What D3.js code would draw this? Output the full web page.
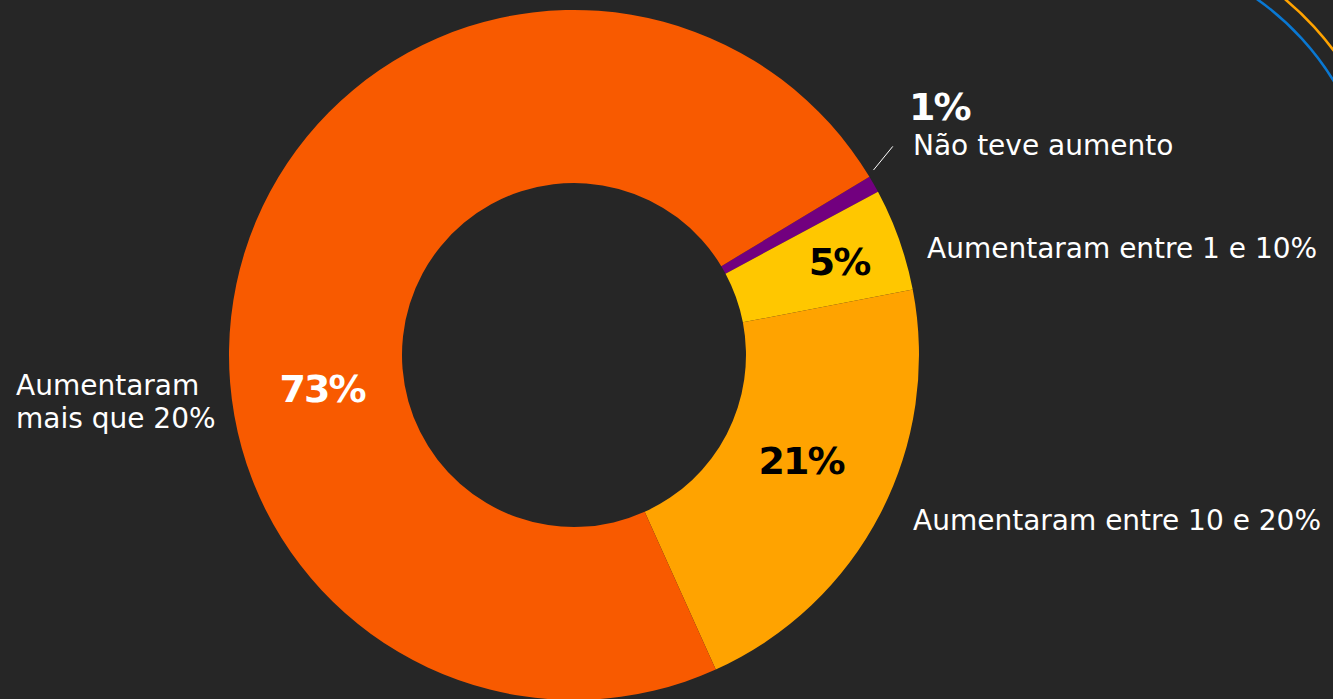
<!DOCTYPE html>
<html lang="pt">
    <head>
        <meta charset="utf-8">
        <title>Aumentos</title>
        <script type="text/javascript" src="https://cdn.jsdelivr.net/npm/d3@7"></script>
        <style>
          body { margin: 0; background: #262626; overflow: hidden; }
        </style>
    </head>
    <body>
        <script type="text/javascript">
          // data (clockwise from the purple slice)
          var categories = ["Não teve aumento", "Aumentaram entre 1 e 10%", "Aumentaram entre 10 e 20%", "Aumentaram mais que 20%"];
          var values = [0.8, 4.8, 21.3, 73.1];
          var colors = ["#72007f", "#ffc700", "#ffa300", "#f85a00"];

          var w = 1333;
          var h = 699;
          var cx = 574, cy = 355;
          var outerR = 345, innerR = 172;
          var font = "'DejaVu Sans', sans-serif";
          var deg = Math.PI / 180;

          var svg = d3.select("body").append("svg")
                      .attr("width", w)
                      .attr("height", h);

          svg.append("rect")
             .attr("width", w)
             .attr("height", h)
             .attr("fill", "#262626");

          // decorative arc segments in the corner
          var rings = svg.append("g").attr("transform", "translate(1099,224)");
          rings.append("path")
               .attr("d", d3.arc()({innerRadius: 290.5, outerRadius: 293, startAngle: 25 * deg, endAngle: 70 * deg}))
               .attr("fill", "#ffa300");
          rings.append("path")
               .attr("d", d3.arc()({innerRadius: 273.5, outerRadius: 276, startAngle: 25 * deg, endAngle: 70 * deg}))
               .attr("fill", "#0a78d2");

          var pie = d3.pie()
                      .sort(null)
                      .startAngle(58.9 * deg)
                      .endAngle((58.9 + 360) * deg);

          var arc = d3.arc()
                      .innerRadius(innerR)
                      .outerRadius(outerR);

          var arcs = pie(values);

          var g = svg.append("g")
                     .attr("transform", "translate(" + cx + "," + cy + ")");

          g.selectAll("path")
           .data(arcs)
           .enter()
           .append("path")
           .attr("d", arc)
           .attr("fill", function(d, i) { return colors[i]; });

          // percentage labels: [x, y, colour, anchor]
          var pctPos = [
            [909, 120, "#ffffff", "start"],
            [839, 275, "#000000", "middle"],
            [801, 474, "#000000", "middle"],
            [322, 402, "#ffffff", "middle"]
          ];

          svg.selectAll("text.pct")
             .data(values)
             .enter()
             .append("text")
             .attr("class", "pct")
             .attr("x", function(d, i) { return pctPos[i][0]; })
             .attr("y", function(d, i) { return pctPos[i][1]; })
             .attr("text-anchor", function(d, i) { return pctPos[i][3]; })
             .attr("fill", function(d, i) { return pctPos[i][2]; })
             .style("font-family", font)
             .style("font-weight", "bold")
             .style("font-size", "38px")
             .style("letter-spacing", "-2px")
             .text(function(d) { return Math.round(d) + "%"; });

          // category labels
          var catPos = [
            [913, [155]],
            [927, [258]],
            [913, [530]],
            [16, [395, 428]]
          ];
          var catLines = [
            ["Não teve aumento"],
            ["Aumentaram entre 1 e 10%"],
            ["Aumentaram entre 10 e 20%"],
            ["Aumentaram", "mais que 20%"]
          ];

          catLines.forEach(function(lines, i) {
            var t = svg.append("text")
                       .attr("fill", "#ffffff")
                       .style("font-family", font)
                       .style("font-size", "28px");
            lines.forEach(function(line, j) {
              t.append("tspan")
               .attr("x", catPos[i][0])
               .attr("y", catPos[i][1][j])
               .text(line);
            });
          });

          // leader line for the small slice
          var a1 = arcs[0].startAngle - 0.6 * deg, a2 = arcs[0].startAngle - 2.1 * deg;
          var r1 = outerR + 7, r2 = outerR + 36;
          svg.append("line")
             .attr("x1", cx + r1 * Math.sin(a1))
             .attr("y1", cy - r1 * Math.cos(a1))
             .attr("x2", cx + r2 * Math.sin(a2))
             .attr("y2", cy - r2 * Math.cos(a2))
             .attr("stroke", "#ffffff")
             .attr("stroke-width", 1);
        </script>
    </body>
</html>
